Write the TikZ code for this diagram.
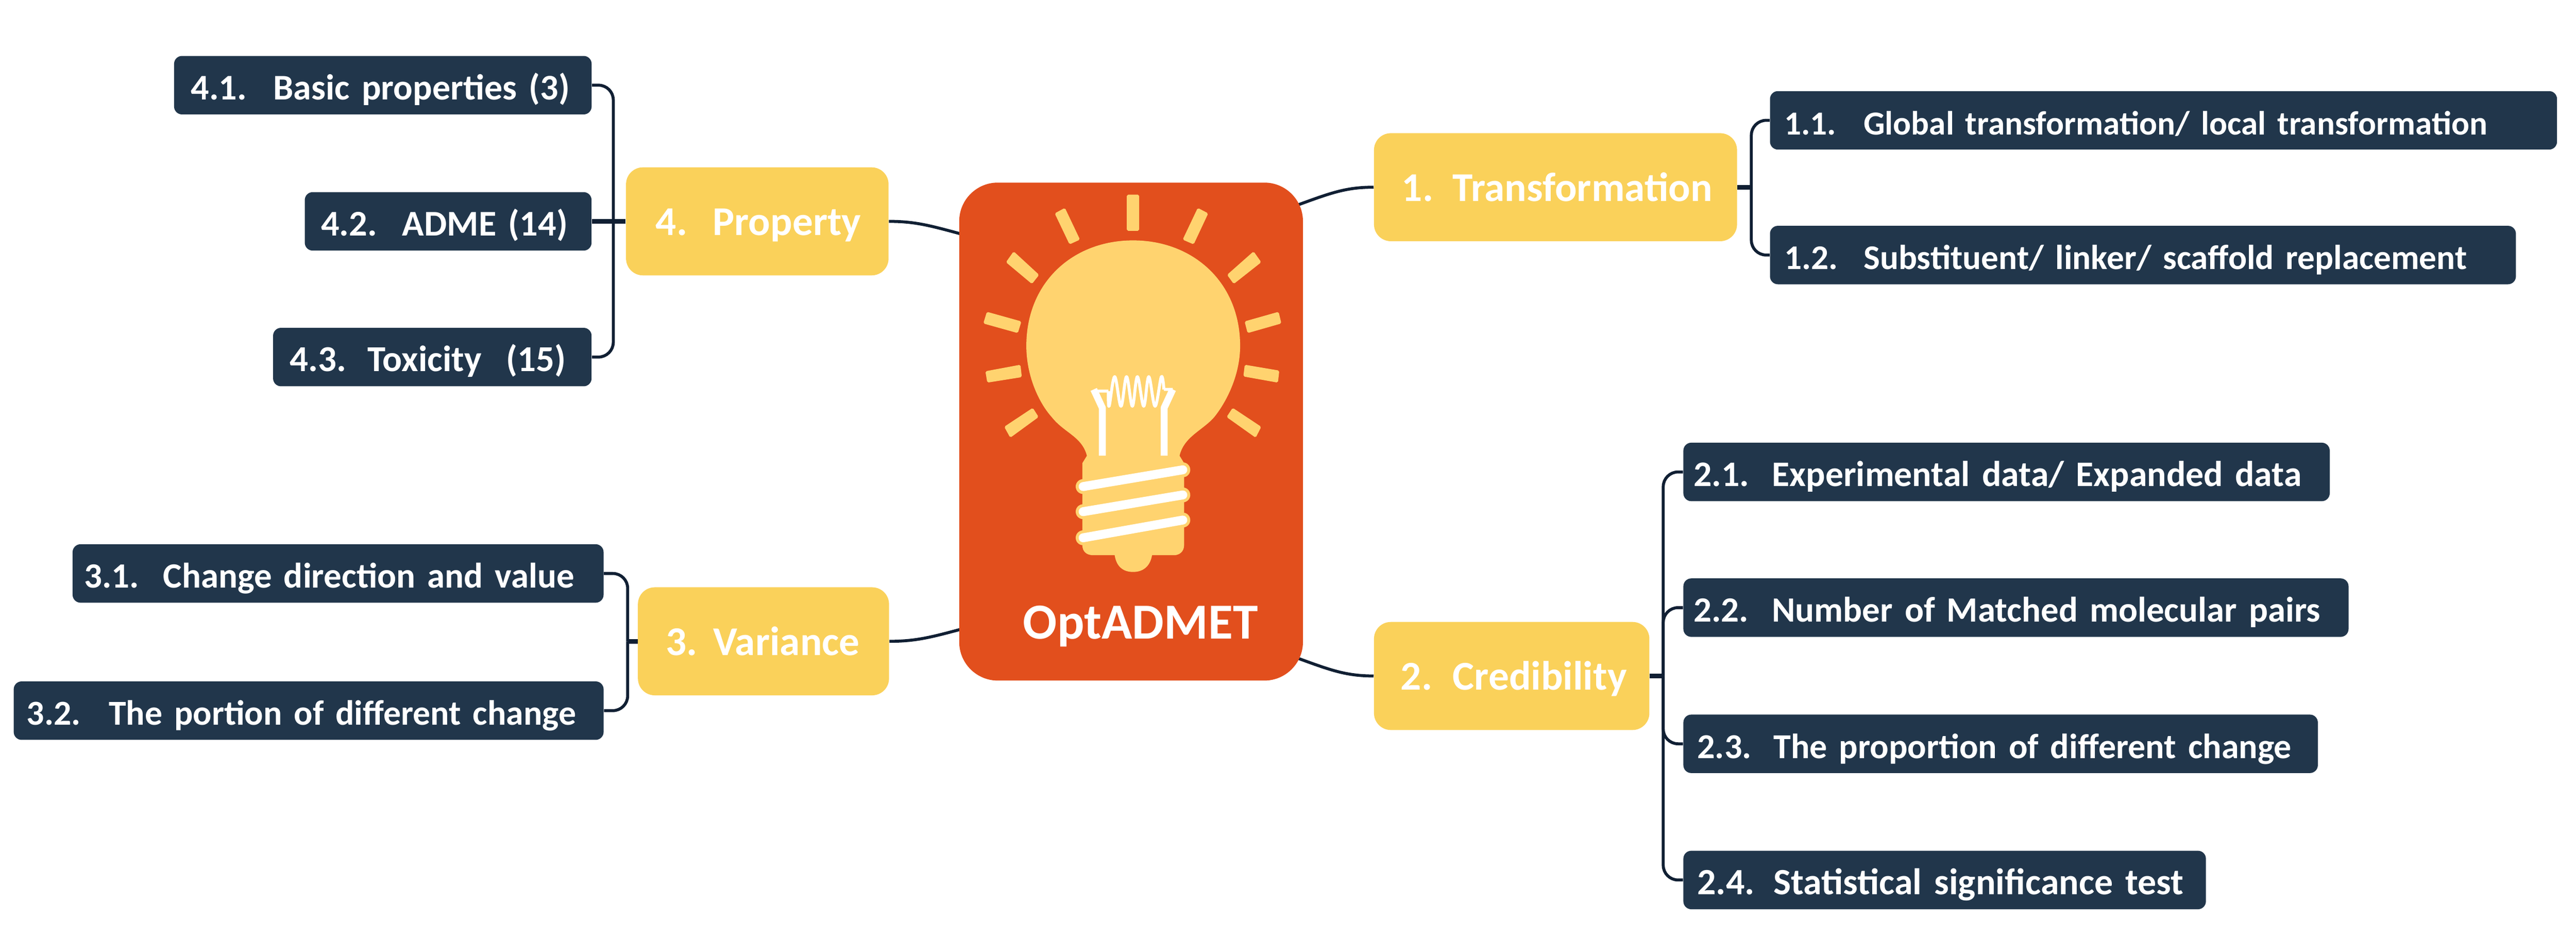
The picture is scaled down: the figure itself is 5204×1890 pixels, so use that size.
\documentclass[tikz,border=0pt]{standalone}
\usepackage{fontspec}
\setmainfont[WordSpace=0.8]{Carlito}
\usetikzlibrary{backgrounds,calc}

\definecolor{navy}{HTML}{21364B}
\definecolor{amber}{HTML}{FAD15A}
\definecolor{rust}{HTML}{E24F1D}
\definecolor{glow}{HTML}{FFD36F}
\definecolor{wire}{HTML}{101F33}

\newcommand{\lab}[3]{\hspace*{#1cm}\makebox[#2cm][l]{#3}}

\begin{document}
\begin{tikzpicture}[x=0.01cm, y=-0.01cm]
  \tikzstyle{leaf}=[anchor=west, fill=navy, text=white, rounded corners=0.16cm, inner sep=0pt,
    align=left, text height=0.88cm, text depth=0.30cm]
  \tikzstyle{topic}=[anchor=west, fill=amber, text=white, rounded corners=0.34cm, inner sep=0pt,
    align=left, text height=1.37cm, text depth=0.81cm, font=\bfseries\fontsize{23.5}{26}\selectfont]
  \tikzstyle{branch}=[draw=wire, line width=0.06cm, rounded corners=0.3cm]
  \tikzstyle{stub}=[draw=wire, line width=0.09cm]
  \tikzstyle{link}=[draw=wire, line width=0.06cm, shorten >=-0.15cm]
  \tikzstyle{ray}=[fill=glow, draw=glow, line width=0.02cm, rounded corners=0.02cm]
  \tikzset{size/.style={font=\bfseries\fontsize{#1}{25}\selectfont}}

  \useasboundingbox (0,0) rectangle (5204,1890);

  \node[fill=rust, rounded corners=0.78cm, minimum width=6.94cm, minimum height=10.05cm, inner sep=0pt] (core) at (2285,871.5) {};
  \node[text=white, inner sep=0pt, font=\bfseries\fontsize{29}{32}\selectfont] (title) at (2304,1265) {OptADMET};

  \node[topic, text width=7.33cm] (trans) at (2775,378)  {\lab{0.56}{1.03}{1.}Transformation};
  \node[topic, text width=5.56cm] (cred)  at (2775,1365) {\lab{0.54}{1.05}{2.}Credibility};
  \node[topic, text width=5.07cm] (var)   at (1288,1295) {\lab{0.56}{0.96}{3.}Variance};
  \node[topic, text width=5.30cm] (prop)  at (1264,447)  {\lab{0.60}{1.15}{4.}Property};

  \node[leaf, size=19.3,  text width=15.89cm] (t1) at (3575,243)  {\lab{0.29}{1.60}{1.1.}Global transformation/ local transformation};
  \node[leaf, size=19.9,  text width=15.06cm] (t2) at (3575,515)  {\lab{0.29}{1.60}{1.2.}Substituent/ linker/ scaffold replacement};
  \node[leaf, size=20.65, text width=13.05cm] (c1) at (3400,953)  {\lab{0.21}{1.58}{2.1.}Experimental data/ Expanded data};
  \node[leaf, size=20.4,  text width=13.43cm] (c2) at (3400,1227) {\lab{0.21}{1.58}{2.2.}Number of Matched molecular pairs};
  \node[leaf, size=20.15, text width=12.81cm] (c3) at (3400,1502) {\lab{0.28}{1.54}{2.3.}The proportion of different change};
  \node[leaf, size=21.3,  text width=10.55cm] (c4) at (3400,1777) {\lab{0.28}{1.54}{2.4.}Statistical significance test};
  \node[leaf, size=20.4,  text width=10.72cm] (v1) at (146,1158)  {\lab{0.23}{1.60}{3.1.}Change direction and value};
  \node[leaf, size=20.1,  text width=11.91cm] (v2) at (27,1435)   {\lab{0.26}{1.66}{3.2.}The portion of different change};
  \node[leaf, size=20.75, text width=8.43cm]  (p1) at (351,172)   {\lab{0.34}{1.66}{4.1.}Basic properties (3)};
  \node[leaf, size=20.8,  text width=5.79cm]  (p2) at (615,447)   {\lab{0.33}{1.64}{4.2.}ADME (14)};
  \node[leaf, size=21,    text width=6.43cm]  (p3) at (551,721)   {\lab{0.34}{1.57}{4.3.}Toxicity\ \ (15)};

  \coordinate (transj) at (3538,378);
  \coordinate (credj)  at (3360,1365);
  \coordinate (varj)   at (1268,1295);
  \coordinate (propj)  at (1239,447);

  \begin{scope}[on background layer]
    \draw[link] (trans.west) to[out=180, in=20]  (core.53);
    \draw[link] (cred.west)  to[out=180, in=340] (core.307);
    \draw[link] (var.east)   to[out=0,   in=195] (core.229);
    \draw[link] (prop.east)  to[out=0,   in=165] (core.131);
  \end{scope}

  \draw[stub] (trans.east) -- (transj);
  \draw[branch] (t1.west) -| (transj);
  \draw[branch] (t2.west) -| (transj);
  \draw[stub] (cred.east) -- (credj);
  \draw[branch] (c1.west) -| (credj);
  \draw[branch] (c2.west) -| (credj);
  \draw[branch] (c3.west) -| (credj);
  \draw[branch] (c4.west) -| (credj);
  \draw[stub] (var.west) -- (varj);
  \draw[branch] (v1.east) -| (varj);
  \draw[branch] (v2.east) -| (varj);
  \draw[stub] (prop.west) -- (p2.east);
  \draw[branch] (p1.east) -| (propj);
  \draw[branch] (p3.east) -| (propj);

  % lamp
  \begin{scope}[shift={(1900,340)}, x=0.005102cm, y=-0.00676cm]
    \foreach \xa/\ya/\xb/\yb/\xc/\yc/\xd/\yd in {
      740/80/785/80/785/185/740/185,
      455/135/492/120/550/212/512/225,
      1058/135/1020/120/962/212/1002/225,
      290/250/388/318/362/343/262/280,
      1240/250/1138/318/1162/343/1268/280,
      185/430/318/458/305/490/172/462,
      1338/430/1207/458/1218/490/1348/462,
      180/607/315/588/320/622/187/638,
      1340/605/1207/588/1202/620/1335/638,
      365/717/386/742/277/802/255/772,
      1158/717/1136/742/1248/802/1268/772}
      \path[ray] (\xa,\ya) -- (\xb,\yb) -- (\xc,\yc) -- (\xd,\yd) -- cycle;

    \fill[glow] (763,215) .. controls (1000,215) and (1187,340) .. (1187,530)
      .. controls (1187,620) and (1130,700) .. (1085,742)
      .. controls (1040,782) and (965,800) .. (947,858) -- (965,880) -- (965,1125)
      .. controls (965,1145) and (945,1155) .. (925,1155) -- (838,1155)
      .. controls (830,1190) and (800,1205) .. (763,1205)
      .. controls (725,1205) and (697,1190) .. (690,1155) -- (605,1155)
      .. controls (580,1155) and (562,1145) .. (562,1125) -- (562,880) -- (580,858)
      .. controls (560,800) and (490,790) .. (440,742)
      .. controls (390,700) and (340,620) .. (340,530)
      .. controls (340,340) and (525,215) .. (763,215) -- cycle;

    \foreach \ya/\yb in {950/900, 1025/975, 1103/1050} {
      \draw[glow, line width=0.30cm, line cap=round] (565,\ya) -- (960,\yb);
      \draw[white, line width=0.18cm, line cap=round] (565,\ya) -- (960,\yb);
    }

    \draw[white, line width=0.14cm, line join=round] (641,858) -- (641,715) -- (607,660);
    \draw[white, line width=0.14cm, line join=round] (886,858) -- (886,715) -- (920,660);
    \draw[white, line width=0.06cm, line join=round] (610,665) -- (665,665)
      plot[smooth, tension=0.6] coordinates {(665,665) (668,710) (690,622) (715,710) (737,622) (760,710) (780,622) (805,710) (825,622) (850,710) (875,622) (885,660)}
      (885,660) -- (920,660);
  \end{scope}
\end{tikzpicture}
\end{document}
